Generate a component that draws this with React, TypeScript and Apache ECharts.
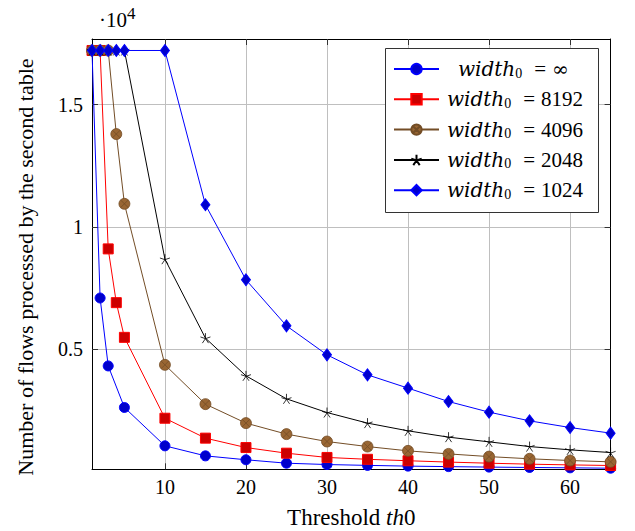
import React, { useEffect, useRef } from 'react';
import * as echarts from 'echarts';

const thresholds = [1, 2, 3, 4, 5, 10, 15, 20, 25, 30, 35, 40, 45, 50, 55, 60, 65];
const flowsInf = [17220, 7090, 4310, null, 2610, 1040, 630, 470, 330, 275, 240, 210, 190, 170, 155, 140, 125];
const flows8192 = [17220, 17220, 9100, 6900, 5480, 2170, 1355, 970, 740, 565, 490, 430, 375, 330, 290, 260, 235];
const flows4096 = [17220, 17220, 17220, 13800, 10945, 4355, 2747, 1970, 1520, 1217, 1010, 835, 710, 600, 510, 440, 385];
const flows2048 = [17220, 17220, 17220, 17220, 17220, 8680, 5448, 3905, 2964, 2403, 1970, 1654, 1396, 1203, 1010, 876, 766];
const flows1024 = [17220, 17220, 17220, 17220, 17220, 17220, 10905, 7835, 5952, 4765, 3946, 3402, 2853, 2419, 2063, 1789, 1560];
const widthLabels = ['∞', '8192', '4096', '2048', '1024'];
const xTicks = [10, 20, 30, 40, 50, 60];
const yTicks = [5000, 10000, 15000];
const yTickLabels = ['0.5', '1', '1.5'];
const X_MIN = 1;
const X_MAX = 65;
const Y_MIN = 80;
const Y_MAX = 17690;

const SERIF = 'Liberation Serif';
const OTIMES = 'path://M0,10A10,10,0,1,1,20,10A10,10,0,1,1,0,10ZM2.93,2.93L17.07,17.07M17.07,2.93L2.93,17.07';
const STAR = 'path://M10,10L10,0M10,10L0.49,6.91M10,10L4.12,18.09M10,10L15.88,18.09M10,10L19.51,6.91';

function pairs(values: (number | null)[]) {
  const out: number[][] = [];
  values.forEach((v, i) => {
    if (v !== null) out.push([thresholds[i], v]);
  });
  return out;
}

export default function App() {
  const ref = useRef<HTMLDivElement>(null);
  useEffect(() => {
    if (!ref.current) return;
    const chart = echarts.init(ref.current, undefined, { renderer: 'svg' });
    const styles = [
      { values: flowsInf, line: '#0000ff', fill: '#0000cc', symbol: 'circle', size: 10, bw: 1 },
      { values: flows8192, line: '#ff0000', fill: '#cc0000', symbol: 'rect', size: 10, bw: 1 },
      { values: flows4096, line: '#734d26', fill: '#996633', symbol: OTIMES, size: 11, bw: 0.8 },
      { values: flows2048, line: '#000000', fill: '#000000', symbol: STAR, size: 10, bw: 0.8 },
      { values: flows1024, line: '#0000ff', fill: '#0000cc', symbol: 'diamond', size: [9, 12], bw: 1 },
    ];
    const series = styles.map((s, i) => ({
      type: 'line',
      name: widthLabels[i],
      data: pairs(s.values),
      symbol: s.symbol,
      symbolSize: s.size,
      showAllSymbol: true,
      connectNulls: true,
      clip: false,
      lineStyle: { color: s.line, width: 1 },
      itemStyle: { color: s.fill, borderColor: s.line, borderWidth: s.bw },
      emphasis: { disabled: true },
    }));
    const tickStyle = { color: '#333', width: 1 };
    const frame = { show: true, lineStyle: { color: '#000', width: 1 } };
    chart.setOption({
      animation: false,
      backgroundColor: '#fff',
      grid: { left: 92, top: 39, width: 518.6, height: 430.3, containLabel: false, outerBoundsMode: 'none' },
      xAxis: [
        {
          type: 'value', min: X_MIN, max: X_MAX, position: 'bottom',
          axisLine: frame,
          axisTick: { show: true, inside: true, length: 6, lineStyle: tickStyle, customValues: xTicks },
          axisLabel: { show: true, customValues: xTicks, margin: 8, fontFamily: SERIF, fontSize: 20, color: '#000' },
          splitLine: { show: true, lineStyle: { color: '#bfbfbf', width: 1 } },
          name: 'Threshold {it|th}0', nameLocation: 'middle', nameGap: 37,
          nameTextStyle: { fontFamily: SERIF, fontSize: 23, color: '#000', rich: { it: { fontFamily: SERIF, fontStyle: 'italic', fontSize: 23, color: '#000' } } },
        },
        {
          type: 'value', min: X_MIN, max: X_MAX, position: 'top',
          axisLine: frame,
          axisTick: { show: true, inside: true, length: 6, lineStyle: tickStyle, customValues: xTicks },
          axisLabel: { show: false },
          splitLine: { show: false },
        },
      ],
      yAxis: [
        {
          type: 'value', min: Y_MIN, max: Y_MAX, position: 'left',
          axisLine: frame,
          axisTick: { show: true, inside: true, length: 6, lineStyle: tickStyle, customValues: yTicks },
          axisLabel: {
            show: true, customValues: yTicks, margin: 9, fontFamily: SERIF, fontSize: 20, color: '#000',
            formatter: (v: number) => yTickLabels[yTicks.indexOf(v)] ?? '',
          },
          splitLine: { show: true, lineStyle: { color: '#bfbfbf', width: 1 } },
        },
        {
          type: 'value', min: Y_MIN, max: Y_MAX, position: 'right',
          axisLine: frame,
          axisTick: { show: true, inside: true, length: 6, lineStyle: tickStyle, customValues: yTicks },
          axisLabel: { show: false },
          splitLine: { show: false },
        },
      ],
      legend: {
        orient: 'vertical', left: 393, top: 58, padding: 0,
        itemWidth: 45, itemHeight: 13, itemGap: 8.3,
        selectedMode: false,
        data: widthLabels,
        formatter: (name: string) =>
          name === '∞'
            ? `{gw| }{i|width}{s|0}{eq|=}{inf|∞}`
            : `{g| }{i|width}{s|0}{eq|=}{n|${name}}`,
        textStyle: {
          fontFamily: SERIF, fontSize: 20, color: '#000', lineHeight: 22,
          rich: {
            g: { width: 3, lineHeight: 22 },
            gw: { width: 14, lineHeight: 22 },
            i: { fontFamily: "'DejaVu Serif'", fontStyle: 'italic', fontSize: 20, color: '#000', lineHeight: 22 },
            s: { fontFamily: SERIF, fontSize: 14, color: '#000', lineHeight: 10, verticalAlign: 'bottom' },
            eq: { fontFamily: SERIF, fontSize: 21, color: '#000', lineHeight: 22, padding: [0, 6, 0, 12] },
            n: { fontFamily: SERIF, fontSize: 21, color: '#000', lineHeight: 22 },
            inf: { fontFamily: "'DejaVu Serif'", fontSize: 20, color: '#000', lineHeight: 22 },
          },
        },
      },
      graphic: [
        {
          type: 'rect', z: 3,
          shape: { x: 385.5, y: 48.5, width: 213, height: 164 },
          style: { fill: '#fff', stroke: '#333', lineWidth: 1 },
        },
        {
          type: 'text', left: 99, top: 5, z: 5,
          style: {
            text: '{a|·10}{b|4}',
            rich: {
              a: { fontFamily: SERIF, fontSize: 21, fill: '#000', lineHeight: 25, verticalAlign: 'bottom' },
              b: { fontFamily: SERIF, fontSize: 17, fill: '#000', lineHeight: 25, verticalAlign: 'top' },
            },
          },
        },
        {
          type: 'text', x: 25, y: 267, rotation: Math.PI / 2, z: 5,
          style: {
            text: 'Number of flows processed by the second table',
            fontFamily: SERIF, fontSize: 22, fill: '#000', align: 'center', verticalAlign: 'middle',
          },
        },
      ],
      series,
    });
    return () => chart.dispose();
  }, []);
  return (
    <div
      ref={ref}
      style={{ position: 'fixed', left: 0, top: 0, width: 635, height: 531, background: '#fff' }}
    />
  );
}
